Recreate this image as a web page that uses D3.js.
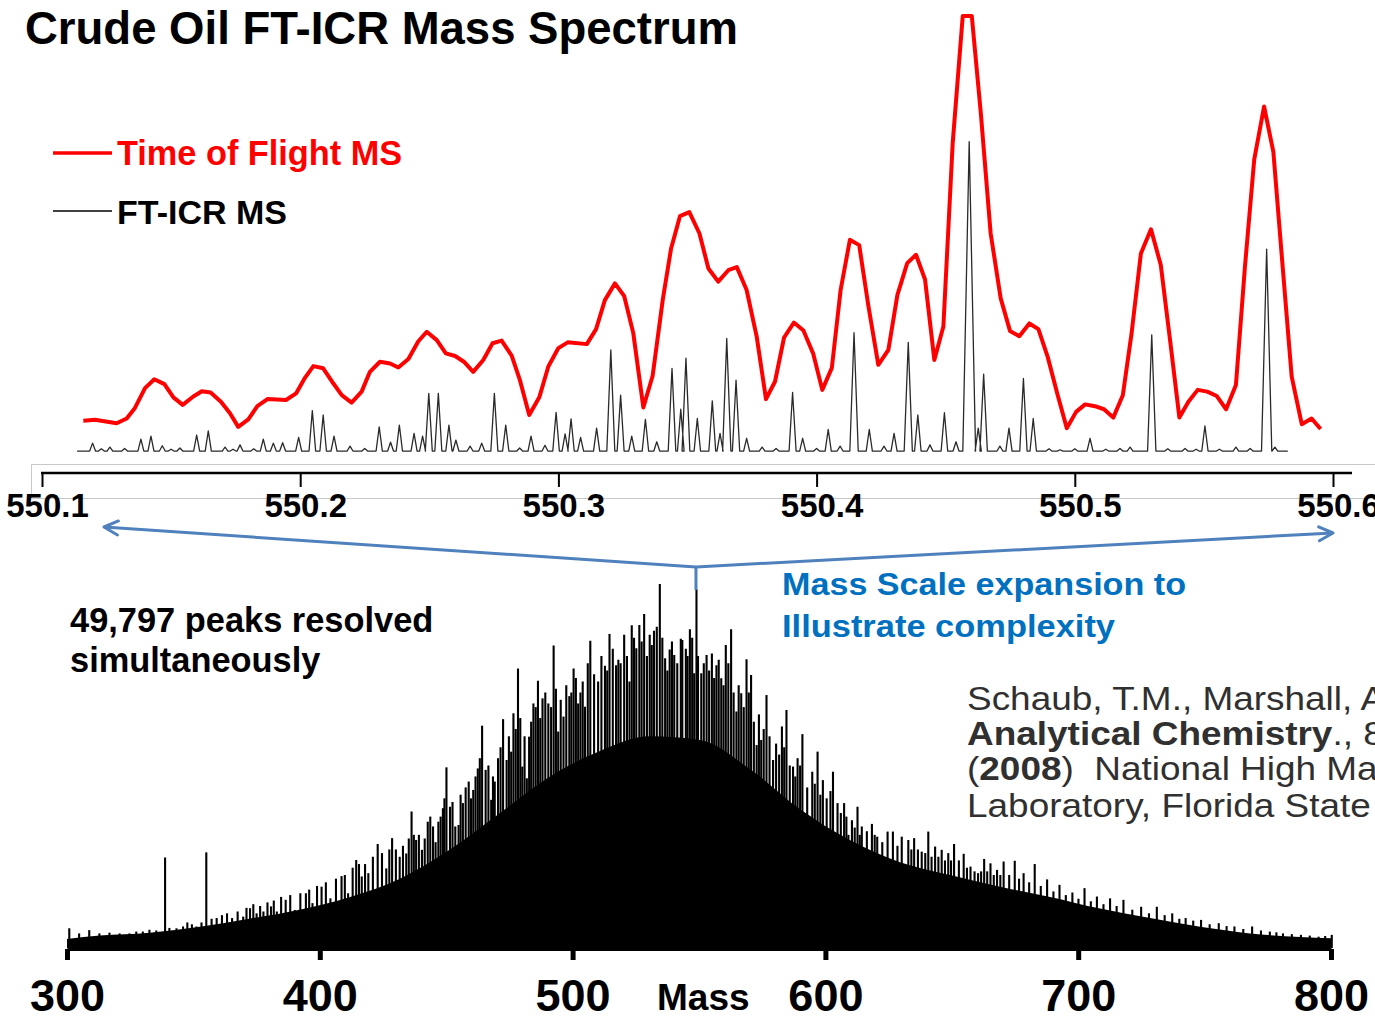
<!DOCTYPE html>
<html>
<head>
<meta charset="utf-8">
<script src="https://cdn.jsdelivr.net/npm/d3@7"></script>
<style>
  body { margin: 0; background: #fff; }
  svg { display: block; font-family: "Liberation Sans", Arial, sans-serif; }
</style>
</head>
<body>
<div id="chart"></div>
<script>
// zoomed window, m/z vs relative intensity
const tof = [
  [550.1160, 7.8], [550.1205, 8.0], [550.1289, 7.2], [550.1328, 8.3], [550.1360, 10.7],
  [550.1399, 15.2], [550.1435, 17.2], [550.1474, 16.1], [550.1509, 13.1], [550.1545, 11.4],
  [550.1586, 13.3], [550.1619, 14.5], [550.1653, 14.2], [550.1693, 12.1], [550.1728, 9.5],
  [550.1760, 6.4], [550.1799, 8.1], [550.1834, 11.1], [550.1873, 12.7], [550.1945, 12.5],
  [550.1984, 14.0], [550.2019, 17.6], [550.2051, 20.2], [550.2089, 19.7], [550.2128, 16.3],
  [550.2161, 13.6], [550.2199, 11.9], [550.2238, 14.4], [550.2270, 18.9], [550.2309, 21.2],
  [550.2348, 20.8], [550.2380, 19.9], [550.2419, 21.8], [550.2457, 25.8], [550.2490, 28.0],
  [550.2529, 26.1], [550.2564, 23.1], [550.2600, 22.5], [550.2634, 21.2], [550.2670, 18.9],
  [550.2709, 21.6], [550.2745, 25.4], [550.2780, 26.0], [550.2819, 22.6], [550.2851, 17.0],
  [550.2887, 9.1], [550.2926, 13.1], [550.2961, 20.1], [550.3000, 24.3], [550.3036, 25.6],
  [550.3110, 25.2], [550.3146, 28.6], [550.3180, 35.2], [550.3219, 39.0], [550.3255, 36.1],
  [550.3290, 27.7], [550.3329, 10.8], [550.3365, 18.0], [550.3404, 35.2], [550.3436, 46.8],
  [550.3471, 54.3], [550.3507, 55.2], [550.3546, 50.4], [550.3581, 42.4], [550.3619, 39.4],
  [550.3658, 42.0], [550.3691, 42.7], [550.3729, 37.5], [550.3768, 26.9], [550.3804, 12.7],
  [550.3839, 16.7], [550.3874, 26.7], [550.3912, 30.1], [550.3949, 28.3], [550.3987, 23.0],
  [550.4022, 14.8], [550.4059, 19.8], [550.4093, 37.5], [550.4129, 48.9], [550.4165, 47.7],
  [550.4200, 34.1], [550.4239, 20.5], [550.4278, 23.9], [550.4313, 36.4], [550.4351, 43.6],
  [550.4385, 45.5], [550.4420, 39.9], [550.4456, 21.6], [550.4491, 29.2], [550.4527, 70.8],
  [550.4566, 99.8], [550.4601, 99.8], [550.4636, 77.7], [550.4674, 50.4], [550.4713, 35.6],
  [550.4749, 28.2], [550.4785, 27.0], [550.4824, 29.9], [550.4859, 28.6], [550.4895, 22.3],
  [550.4932, 14.0], [550.4969, 6.1], [550.5005, 9.8], [550.5040, 11.5], [550.5078, 11.1],
  [550.5113, 10.4], [550.5149, 8.5], [550.5186, 13.6], [550.5220, 27.7], [550.5256, 45.8],
  [550.5295, 51.3], [550.5333, 43.2], [550.5369, 26.1], [550.5405, 8.5], [550.5440, 12.1],
  [550.5476, 14.8], [550.5513, 14.4], [550.5550, 13.4], [550.5586, 10.4], [550.5624, 15.9],
  [550.5659, 42.8], [550.5695, 67.2], [550.5733, 79.2], [550.5769, 68.9], [550.5805, 42.8],
  [550.5840, 17.8], [550.5879, 7.0], [550.5917, 8.3], [550.5952, 5.9]
];

// FT-ICR peaks: apex m/z and height
const ftIcr = [
  [550.1147, 0.9], [550.1196, 2.7], [550.1230, 1.4], [550.1263, 1.8], [550.1320, 1.5],
  [550.1383, 3.6], [550.1422, 4.3], [550.1466, 2.1], [550.1500, 1.3], [550.1534, 1.6],
  [550.1599, 4.5], [550.1644, 5.5], [550.1709, 1.8], [550.1740, 1.3], [550.1767, 2.3],
  [550.1820, 1.4], [550.1857, 3.6], [550.1896, 2.7], [550.1932, 2.8], [550.1994, 4.0],
  [550.2047, 10.1], [550.2089, 9.1], [550.2131, 4.3], [550.2193, 2.0], [550.2250, 1.5],
  [550.2306, 6.4], [550.2350, 2.9], [550.2384, 6.8], [550.2441, 4.9], [550.2474, 4.3],
  [550.2498, 14.0], [550.2535, 14.0], [550.2576, 6.8], [550.2603, 3.4], [550.2658, 2.0],
  [550.2703, 2.7], [550.2752, 14.0], [550.2796, 6.8], [550.2850, 1.6], [550.2894, 4.3],
  [550.2948, 2.2], [550.2991, 9.7], [550.3026, 4.8], [550.3049, 8.2], [550.3086, 4.0],
  [550.3148, 6.1], [550.3203, 23.9], [550.3241, 13.6], [550.3284, 4.3], [550.3337, 8.1],
  [550.3381, 3.0], [550.3440, 19.7], [550.3474, 10.4], [550.3494, 22.0], [550.3538, 8.3],
  [550.3596, 12.3], [550.3626, 4.9], [550.3652, 26.5], [550.3688, 17.0], [550.3729, 3.8],
  [550.3789, 1.8], [550.3843, 1.5], [550.3907, 14.2], [550.3946, 3.8], [550.4000, 1.5],
  [550.4045, 5.8], [550.4091, 2.0], [550.4145, 27.8], [550.4204, 5.8], [550.4261, 2.0],
  [550.4300, 4.9], [550.4355, 25.6], [550.4392, 9.1], [550.4439, 2.3], [550.4495, 9.6],
  [550.4540, 3.0], [550.4591, 71.2], [550.4626, 6.1], [550.4647, 18.4], [550.4710, 2.0],
  [550.4745, 6.1], [550.4801, 17.4], [550.4839, 8.3], [550.4900, 1.4], [550.4943, 1.2],
  [550.5000, 1.4], [550.5059, 3.8], [550.5120, 1.3], [550.5175, 1.5], [550.5214, 1.8],
  [550.5298, 27.3], [550.5360, 1.4], [550.5427, 1.5], [550.5470, 1.3], [550.5504, 6.6],
  [550.5560, 1.3], [550.5624, 1.8], [550.5679, 1.5], [550.5743, 46.8], [550.5775, 1.8],
  [550.5814, 0.9]
];
const ftBaseline = 0.9;

// full spectrum 300-800: solid body of unresolved peaks, and the sticks above it
const envelope = [
  [300, 2.5], [313, 3.4], [332.8, 4.2], [352.6, 5.8], [372, 8.0], [392, 10.5],
  [412, 14.0], [431.7, 19.0], [451.5, 27.0], [471.3, 37.0], [491.1, 47.0], [510.9, 54.0],
  [530.6, 58.0], [550.4, 57.0], [570.2, 49.0], [590, 38.0], [609.8, 29.5], [629.5, 23.5],
  [649.3, 20.0], [669.1, 16.8], [688.9, 14.0], [708.7, 10.8], [728.4, 8.2], [748.2, 5.8],
  [768, 4.0], [787.8, 3.0], [800, 2.7]
];

const sticks = [
  [300.9, 5.4], [304.8, 4.0], [308.8, 4.9], [312.8, 4.0], [316.8, 4.2], [320.8, 4.0],
  [324.7, 4.0], [327.4, 4.5], [330.0, 4.5], [332.6, 5.0], [335.3, 4.8], [338.8, 24.8],
  [340.5, 5.5], [343.3, 5.4], [345.9, 5.9], [347.6, 7.0], [349.4, 6.5], [351.2, 5.9],
  [353.2, 7.0], [355.1, 26.2], [357.2, 8.0], [359.2, 8.2], [361.3, 9.0], [363.3, 9.5],
  [365.3, 8.2], [367.5, 10.0], [369.7, 8.6], [371.0, 11.0], [372.4, 10.9], [373.7, 12.0],
  [375.0, 9.5], [376.4, 11.5], [377.7, 10.0], [379.3, 12.5], [380.7, 11.4], [381.8, 13.0],
  [383.0, 10.0], [384.7, 14.0], [386.5, 13.2], [388.3, 14.5], [390.1, 10.4], [392.3, 15.0],
  [394.5, 15.0], [395.8, 16.0], [397.1, 12.3], [398.9, 17.0], [400.7, 16.8], [402.4, 18.0],
  [404.2, 13.6], [406.4, 19.0], [408.6, 19.7], [409.9, 20.0], [411.2, 15.0], [413.0, 22.0],
  [414.4, 24.1], [415.5, 23.0], [416.6, 19.6], [417.9, 23.0], [419.2, 20.5], [421.0, 25.0],
  [422.9, 28.5], [424.6, 26.0], [426.3, 21.8], [427.5, 27.0], [428.6, 30.1], [430.1, 27.0],
  [431.6, 25.0], [432.9, 28.0], [434.2, 25.9], [435.2, 30.0], [436.3, 37.4], [437.2, 31.0],
  [438.1, 29.6], [439.2, 31.0], [440.4, 26.9], [441.5, 30.0], [442.7, 34.6], [443.7, 36.0],
  [444.8, 33.3], [445.8, 29.0], [446.9, 34.6], [447.8, 36.0], [448.7, 38.3], [449.3, 41.0],
  [450.1, 49.5], [451.5, 38.7], [452.5, 40.0], [453.6, 33.3], [454.9, 33.7], [455.7, 42.0],
  [456.6, 39.7], [457.7, 44.0], [458.9, 45.6], [459.8, 41.0], [460.7, 43.3], [461.6, 47.0],
  [462.5, 49.2], [463.3, 52.0], [464.2, 60.9], [465.6, 48.8], [466.7, 50.0], [467.8, 40.6],
  [468.5, 47.0], [469.2, 45.6], [470.5, 52.0], [471.5, 55.0], [472.5, 62.7], [473.9, 51.5],
  [474.8, 58.0], [475.7, 53.8], [476.6, 64.3], [477.5, 60.0], [478.4, 76.6], [479.3, 63.0],
  [480.1, 49.7], [481.0, 58.0], [481.9, 46.5], [482.8, 57.9], [483.6, 62.0], [484.5, 67.0],
  [485.4, 66.0], [486.3, 73.2], [487.2, 63.0], [488.1, 68.4], [489.2, 70.0], [490.4, 67.0],
  [491.5, 66.0], [492.5, 82.9], [493.4, 71.0], [494.3, 59.3], [495.3, 68.0], [496.4, 63.4],
  [497.5, 72.0], [498.7, 69.0], [499.5, 70.0], [500.4, 76.6], [501.3, 74.0], [502.2, 67.0],
  [503.1, 70.0], [504.0, 73.0], [504.9, 66.1], [506.0, 78.0], [507.0, 84.2], [508.5, 75.0],
  [510.1, 73.0], [511.4, 80.0], [512.8, 77.3], [513.7, 76.0], [514.6, 86.0], [515.9, 82.0],
  [517.2, 77.5], [518.1, 79.0], [519.0, 78.0], [520.4, 85.8], [521.5, 80.0], [522.5, 73.0],
  [523.4, 88.4], [524.3, 85.0], [525.2, 82.1], [526.4, 88.5], [527.3, 84.0], [528.3, 91.5],
  [529.4, 80.0], [530.5, 85.8], [531.3, 83.0], [532.2, 86.9], [533.3, 88.0], [534.5, 99.7],
  [535.5, 85.0], [536.6, 79.4], [537.5, 76.0], [538.4, 81.8], [539.3, 84.0], [540.2, 80.3],
  [541.4, 78.0], [542.8, 84.7], [543.4, 84.4], [544.8, 82.0], [545.5, 80.0], [546.4, 87.3],
  [547.3, 85.0], [548.1, 75.3], [549.0, 98.3], [549.6, 80.0], [550.9, 75.3], [551.9, 78.0],
  [553.0, 80.3], [554.0, 76.0], [555.1, 80.7], [556.0, 74.0], [556.9, 77.5], [557.8, 79.0],
  [558.8, 73.9], [559.7, 72.0], [560.6, 83.0], [561.6, 78.0], [562.7, 87.3], [563.7, 70.0],
  [564.8, 64.8], [565.7, 72.0], [566.7, 69.8], [567.7, 66.0], [568.8, 79.1], [569.7, 70.0],
  [570.6, 74.8], [571.7, 62.0], [572.8, 55.6], [573.7, 64.0], [574.6, 57.0], [575.6, 60.0],
  [576.7, 69.3], [577.9, 58.0], [579.3, 51.5], [580.5, 56.0], [581.7, 53.0], [582.8, 60.7],
  [583.7, 55.0], [584.6, 65.2], [585.9, 50.0], [587.2, 49.7], [588.1, 47.0], [589.0, 52.0],
  [590.0, 50.0], [590.9, 58.6], [592.8, 44.0], [594.8, 48.3], [595.8, 45.0], [596.9, 53.8],
  [598.0, 42.0], [599.0, 46.0], [600.5, 41.0], [602.0, 43.0], [603.0, 48.3], [604.8, 39.7],
  [606.1, 37.0], [607.4, 39.7], [608.3, 36.0], [609.1, 31.0], [610.5, 35.0], [611.6, 33.0],
  [612.7, 38.7], [613.6, 31.0], [614.4, 33.3], [616.4, 32.0], [618.4, 34.0], [619.5, 31.0],
  [620.5, 30.5], [622.5, 29.0], [624.6, 31.9], [626.7, 31.9], [628.5, 28.0], [630.2, 30.5],
  [632.8, 29.6], [634.0, 27.0], [635.1, 30.1], [636.6, 27.0], [638.1, 26.4], [639.5, 26.0],
  [640.7, 31.9], [642.0, 25.0], [643.4, 27.8], [644.7, 25.0], [646.0, 26.9], [647.3, 24.0],
  [648.6, 26.0], [649.7, 24.0], [650.9, 28.5], [652.8, 24.0], [654.7, 25.8], [656.0, 22.0],
  [657.4, 22.3], [659.0, 21.0], [660.4, 20.5], [661.6, 21.0], [662.8, 24.4], [664.0, 21.0],
  [665.3, 23.2], [666.6, 20.0], [667.9, 21.4], [669.2, 20.0], [670.5, 23.7], [672.7, 20.0],
  [674.9, 23.9], [676.6, 19.0], [678.4, 20.5], [680.6, 18.0], [682.8, 23.0], [685.2, 17.0],
  [687.7, 18.8], [690.2, 15.5], [692.6, 17.3], [695.1, 14.5], [697.7, 15.2], [700.1, 13.5],
  [702.5, 16.4], [705.0, 12.8], [707.4, 14.1], [710.0, 12.0], [712.6, 13.6], [715.2, 11.5],
  [717.9, 13.2], [721.4, 10.5], [724.9, 11.3], [728.0, 9.5], [731.1, 11.3], [734.2, 9.0],
  [737.2, 9.5], [740.0, 8.0], [742.5, 8.2], [745.5, 7.5], [748.6, 7.7], [752.0, 6.5],
  [755.6, 6.8], [758.7, 6.0], [761.8, 5.9], [765.3, 5.2], [768.8, 5.9], [772.3, 4.8],
  [775.8, 4.5], [778.4, 4.3], [781.0, 4.0], [784.5, 3.8], [788.1, 3.6], [791.6, 3.4],
  [795.1, 3.1], [797.7, 3.3], [800.3, 3.6]
];

const zoomTicks = [550.1, 550.2, 550.3, 550.4, 550.5, 550.6];
const massTicks = [300, 400, 500, 600, 700, 800];

const width = 1375, height = 1018;

const svg = d3.select("#chart")
  .append("svg")
  .attr("width", width)
  .attr("height", height);

const xTop = d3.scaleLinear().domain([550.1, 550.6]).range([42, 1333]);
const yTop = d3.scaleLinear().domain([0, 100]).range([455, 15]);
const xBot = d3.scaleLinear().domain([300, 800]).range([67, 1331]);
const yBot = d3.scaleLinear().domain([0, 100]).range([948, 583]);

// title
svg.append("text")
  .attr("x", 25).attr("y", 44)
  .attr("font-size", 45.5).attr("font-weight", "bold")
  .text("Crude Oil FT-ICR Mass Spectrum");

// legend
svg.append("line").attr("x1", 53).attr("x2", 112).attr("y1", 153).attr("y2", 153)
  .attr("stroke", "#ff0000").attr("stroke-width", 3.5);
svg.append("text").attr("x", 117).attr("y", 165)
  .attr("font-size", 34.3).attr("font-weight", "bold").attr("fill", "#ff0000")
  .text("Time of Flight MS");
svg.append("line").attr("x1", 53).attr("x2", 112).attr("y1", 211).attr("y2", 211)
  .attr("stroke", "#000").attr("stroke-width", 1.3);
svg.append("text").attr("x", 117).attr("y", 224)
  .attr("font-size", 34).attr("font-weight", "bold")
  .text("FT-ICR MS");

// light frame behind the zoom axis
svg.append("path")
  .attr("d", `M${width},464.5H31.5V498.5H${width}`)
  .attr("fill", "none").attr("stroke", "#c8c8c8").attr("stroke-width", 1);

// FT-ICR trace: each peak drawn as a narrow line shape on the baseline
const ftPoints = [];
ftIcr.forEach(([m, v]) => {
  const hw = 2.8 + v * 0.05;
  ftPoints.push([xTop(m) - hw, yTop(ftBaseline)], [xTop(m), yTop(v)], [xTop(m) + hw, yTop(ftBaseline)]);
});
svg.append("path")
  .attr("d", d3.line()(ftPoints))
  .attr("fill", "none").attr("stroke", "#2a2a2a").attr("stroke-width", 1.3)
  .attr("stroke-linejoin", "round");

// time of flight trace
svg.append("path")
  .datum(tof)
  .attr("d", d3.line().x(d => xTop(d[0])).y(d => yTop(d[1])))
  .attr("fill", "none").attr("stroke", "#ff0000").attr("stroke-width", 4)
  .attr("stroke-linejoin", "round");

// zoom axis
svg.append("line").attr("x1", 41).attr("x2", 1352).attr("y1", 473).attr("y2", 473)
  .attr("stroke", "#000").attr("stroke-width", 2.5);
const topAxis = svg.append("g")
  .attr("transform", "translate(0,473)")
  .call(d3.axisBottom(xTop).tickValues(zoomTicks).tickSize(14).tickSizeOuter(0)
    .tickFormat(d3.format(".1f")));
topAxis.select(".domain").remove();
topAxis.selectAll(".tick line").attr("stroke-width", 2);
topAxis.selectAll(".tick text")
  .attr("y", 44).attr("dy", null).attr("x", 5)
  .attr("font-size", 33).attr("font-weight", "bold")
  .attr("font-family", "'Liberation Sans', Arial, sans-serif").attr("fill", "#000");

// full spectrum
svg.append("path")
  .datum(envelope)
  .attr("d", d3.area().curve(d3.curveMonotoneX)
    .x(d => xBot(d[0])).y0(yBot(0)).y1(d => yBot(d[1])))
  .attr("fill", "#000");
svg.append("g")
  .selectAll("line")
  .data(sticks)
  .join("line")
  .attr("x1", d => xBot(d[0])).attr("x2", d => xBot(d[0]))
  .attr("y1", yBot(0)).attr("y2", d => yBot(d[1]))
  .attr("stroke", "#000").attr("stroke-width", 2.1);

const botAxis = svg.append("g")
  .attr("transform", "translate(0,949)")
  .call(d3.axisBottom(xBot).tickValues(massTicks).tickSize(11).tickSizeOuter(0));
botAxis.select(".domain").attr("stroke-width", 3);
botAxis.selectAll(".tick line").attr("stroke-width", 5);
botAxis.selectAll(".tick text")
  .attr("y", 62).attr("dy", null)
  .attr("font-size", 45).attr("font-weight", "bold")
  .attr("font-family", "'Liberation Sans', Arial, sans-serif").attr("fill", "#000");

svg.append("text").attr("x", 657).attr("y", 1010)
  .attr("font-size", 37).attr("font-weight", "bold")
  .text("Mass");

// expansion arrows
const blue = "#4f81bd";
const defs = svg.append("defs");
defs.append("marker")
  .attr("id", "head")
  .attr("viewBox", "-16 -9 18 18")
  .attr("refX", 0).attr("refY", 0)
  .attr("markerWidth", 18).attr("markerHeight", 18)
  .attr("markerUnits", "userSpaceOnUse")
  .attr("orient", "auto")
  .append("path")
  .attr("d", "M-14,-7L0,0L-14,7")
  .attr("fill", "none").attr("stroke", blue).attr("stroke-width", 3)
  .attr("stroke-linecap", "round").attr("stroke-linejoin", "round");

const jx = xBot(548.8), jy = 567;
svg.append("line").attr("x1", jx).attr("y1", jy).attr("x2", xTop(550.124)).attr("y2", 527)
  .attr("stroke", blue).attr("stroke-width", 3).attr("marker-end", "url(#head)");
svg.append("line").attr("x1", jx).attr("y1", jy).attr("x2", xTop(550.6)).attr("y2", 533)
  .attr("stroke", blue).attr("stroke-width", 3).attr("marker-end", "url(#head)");
svg.append("line").attr("x1", jx).attr("y1", jy).attr("x2", jx).attr("y2", 590)
  .attr("stroke", blue).attr("stroke-width", 3);

// notes
svg.append("text").attr("x", 782).attr("y", 595)
  .attr("font-size", 32).attr("font-weight", "bold").attr("fill", "#0070c0")
  .attr("textLength", 404).attr("lengthAdjust", "spacingAndGlyphs")
  .text("Mass Scale expansion to");
svg.append("text").attr("x", 782).attr("y", 637)
  .attr("font-size", 32).attr("font-weight", "bold").attr("fill", "#0070c0")
  .attr("textLength", 333).attr("lengthAdjust", "spacingAndGlyphs")
  .text("Illustrate complexity");

svg.append("text").attr("x", 70).attr("y", 632)
  .attr("font-size", 34.4).attr("font-weight", "bold")
  .text("49,797 peaks resolved");
svg.append("text").attr("x", 70).attr("y", 672)
  .attr("font-size", 34.4).attr("font-weight", "bold")
  .text("simultaneously");

const cite = svg.append("g")
  .attr("transform", "translate(967,0) scale(1.12,1)")
  .attr("font-size", 33).attr("fill", "#303030");
cite.append("text").attr("y", 710).text("Schaub, T.M., Marshall, A.G., et al.");
const c2 = cite.append("text").attr("y", 745);
c2.append("tspan").attr("font-weight", "bold").text("Analytical Chemistry");
c2.append("tspan").text("., 80, 3985");
const c3 = cite.append("text").attr("y", 780);
c3.append("tspan").text("(");
c3.append("tspan").attr("font-weight", "bold").text("2008");
c3.append("tspan").text(")\u00a0\u00a0National High Magnetic Field");
cite.append("text").attr("y", 817).text("Laboratory, Florida State University");
</script>
</body>
</html>
